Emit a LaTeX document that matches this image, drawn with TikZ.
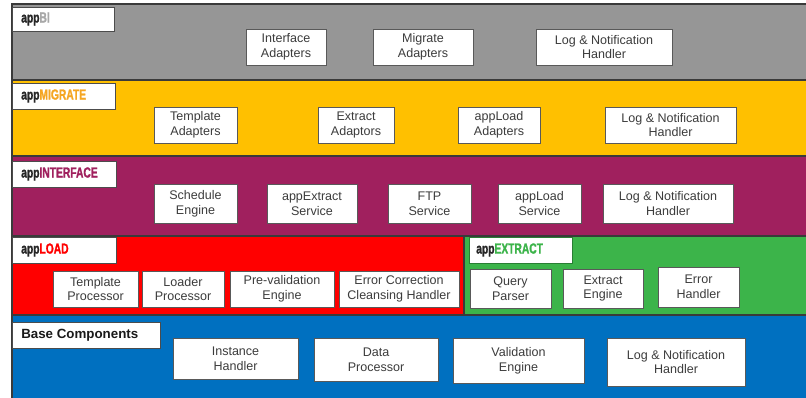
\documentclass[tikz,border=0pt]{standalone}
\usepackage{fontspec}
\setmainfont{Liberation Sans}
\setsansfont{Liberation Sans}
\newfontfamily\condfont[FakeStretch=0.7, BoldFeatures={FakeBold=1.3}]{Liberation Sans}
\definecolor{bigray}{HTML}{969696}
\definecolor{migyel}{HTML}{FFC000}
\definecolor{migtxt}{HTML}{F5A623}
\definecolor{intpur}{HTML}{A0205E}
\definecolor{loadred}{HTML}{FF0000}
\definecolor{extgrn}{HTML}{3CB44A}
\definecolor{baseblu}{HTML}{0070C0}
\definecolor{bitxt}{HTML}{A8A8A8}
\definecolor{comptxt}{HTML}{3C3C3C}
\definecolor{edge}{HTML}{3A3A3A}
\newcommand\boxat[7][]{\node[#1, minimum width={(#5-#3)*0.75pt}, minimum height={(#6-#4)*0.75pt}] (#2) at ({(#3+#5)/2},{(#4+#6)/2}) {#7};}
\begin{document}
\begin{tikzpicture}[x=0.75pt,y=-0.75pt,
  layer/.style={draw=edge, line width=0.8pt, inner sep=0pt, rectangle},
  lblbox/.style={draw=black!70, line width=0.6pt, fill=white, inner sep=0pt, rectangle},
  comp/.style={draw=black!65, line width=0.6pt, fill=white, inner sep=0pt, rectangle, align=center, text=comptxt, font=\fontsize{9.4}{11.2}\selectfont},
  lbltxt/.style={anchor=west, inner sep=0pt, text=black!85, font=\condfont\bfseries\fontsize{11}{12}\selectfont}]
\useasboundingbox (0,0) rectangle (806,398);
% layers
\boxat[layer, fill=bigray]{biL}{12}{4}{807}{80}{}
\boxat[layer, fill=migyel]{migL}{12}{80}{807}{156}{}
\boxat[layer, fill=intpur]{intL}{12}{156}{807}{236}{}
\boxat[layer, fill=loadred]{loadL}{12}{236}{464}{315}{}
\boxat[layer, fill=extgrn]{extL}{464}{236}{807}{315}{}
\boxat[layer, fill=baseblu]{baseL}{12}{315}{807}{399}{}
% label boxes
\boxat[lblbox]{biB}{12}{7}{114}{31}{}
\node[lbltxt] (biT) at (21,19) {app\textcolor{bitxt}{BI}};
\boxat[lblbox]{migB}{12}{83}{115}{109}{}
\node[lbltxt] (migT) at (21,96) {app\textcolor{migtxt}{MIGRATE}};
\boxat[lblbox]{intB}{12}{161}{116}{187}{}
\node[lbltxt] (intT) at (21,174) {app\textcolor{intpur}{INTERFACE}};
\boxat[lblbox]{loadB}{12}{237}{116}{263}{}
\node[lbltxt] (loadT) at (21,250) {app\textcolor{loadred}{LOAD}};
\boxat[lblbox, draw=extgrn!70!black]{extB}{469}{237}{572}{263}{}
\node[lbltxt] (extT) at (476,250) {app\textcolor{extgrn}{EXTRACT}};
\boxat[lblbox]{baseB}{12}{322}{160}{348}{}
\node[anchor=west, inner sep=0pt, font=\bfseries\fontsize{10}{12}\selectfont, text=black!90] (baseT) at (21,335) {Base Components};
% appBI
\boxat[comp]{ia}{246}{29}{326}{65}{Interface\\Adapters}
\boxat[comp]{ma}{373}{29}{473}{65}{Migrate\\Adapters}
\boxat[comp]{lnb}{536}{29}{672}{65}{Log \& Notification\\Handler}
% appMIGRATE
\boxat[comp]{ta}{154}{107}{237}{143}{Template\\Adapters}
\boxat[comp]{ea}{318}{107}{394}{143}{Extract\\Adaptors}
\boxat[comp]{la}{458}{107}{540}{143}{appLoad\\Adapters}
\boxat[comp]{lnm}{605}{107}{736}{143}{Log \& Notification\\Handler}
% appINTERFACE
\boxat[comp]{se}{154}{184}{237}{223}{Schedule\\Engine}
\boxat[comp]{es}{267}{184}{357}{223}{appExtract\\Service}
\boxat[comp]{ftp}{388}{184}{471}{223}{FTP\\Service}
\boxat[comp]{ls}{498}{184}{581}{223}{appLoad\\Service}
\boxat[comp]{lni}{603}{184}{733}{223}{Log \& Notification\\Handler}
% appLOAD
\boxat[comp]{tp}{53}{271}{138}{307}{Template\\Processor}
\boxat[comp]{lp}{142}{271}{224}{307}{Loader\\Processor}
\boxat[comp]{pv}{230}{271}{334}{307}{Pre-validation\\Engine}
\boxat[comp]{ec}{339}{271}{459}{307}{Error Correction\\Cleansing Handler}
% appEXTRACT
\boxat[comp]{qp}{470}{269}{551}{308}{Query\\Parser}
\boxat[comp]{ee}{563}{269}{643}{308}{Extract\\Engine}
\boxat[comp]{eh}{658}{267}{739}{307}{Error\\Handler}
% Base
\boxat[comp]{ih}{173}{338}{298}{379}{Instance\\Handler}
\boxat[comp]{dp}{314}{338}{438}{381}{Data\\Processor}
\boxat[comp]{ve}{453}{338}{584}{383}{Validation\\Engine}
\boxat[comp]{lnbase}{607}{338}{745}{386}{Log \& Notification\\Handler}
\end{tikzpicture}
\end{document}
